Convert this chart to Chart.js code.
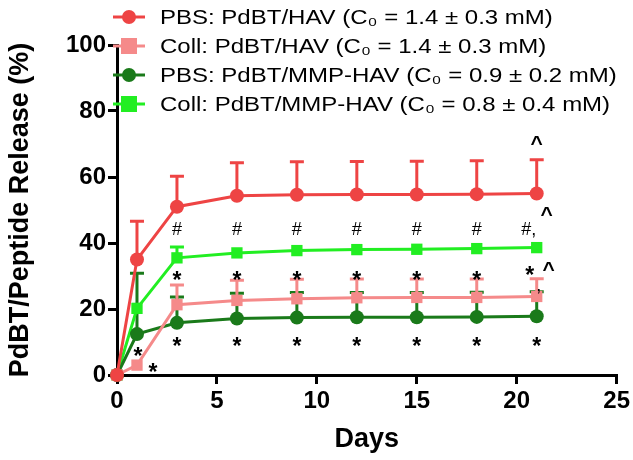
<!DOCTYPE html>
<html>
<head>
<meta charset="utf-8">
<script src="https://cdn.jsdelivr.net/npm/chart.js@4.4.1/dist/chart.umd.min.js"></script>
<style>
  html, body { margin: 0; padding: 0; background: #fff; }
  #wrap { width: 633px; height: 460px; }
</style>
</head>
<body>
<div id="wrap"><canvas id="releaseChart"></canvas></div>
<script>
const days = [0, 1, 3, 6, 9, 12, 15, 18, 21];

const seriesLabels = [
  "PBS: PdBT/HAV (C\u2080 = 1.4 \u00b1 0.3 mM)",
  "Coll: PdBT/HAV (C\u2080 = 1.4 \u00b1 0.3 mM)",
  "PBS: PdBT/MMP-HAV (C\u2080 = 0.9 \u00b1 0.2 mM)",
  "Coll: PdBT/MMP-HAV (C\u2080 = 0.8 \u00b1 0.4 mM)"
];

const pbsHav = [0, 35, 51, 54.3, 54.6, 54.7, 54.7, 54.8, 55];
const collHav = [0, 3, 21.3, 22.6, 23.1, 23.4, 23.5, 23.5, 23.8];
const pbsMmp = [0, 12.4, 15.8, 17.1, 17.4, 17.5, 17.5, 17.6, 17.8];
const collMmp = [0, 20.2, 35.5, 37, 37.7, 38, 38.1, 38.3, 38.6];

// upper end of the error bars
const pbsHavErr = [0, 46.6, 60.2, 64.3, 64.6, 64.7, 64.8, 64.9, 65.2];
const collHavErr = [0, 3, 27.3, 28.7, 29, 29.1, 29.1, 29.1, 29.2];
const pbsMmpErr = [0, 30.8, 23.6, 24.8, 25, 25, 25, 25.1, 25.2];
const collMmpErr = [0, 20.2, 38.8, 37, 37.7, 38, 38.1, 38.3, 38.6];

// significance marks
const markX = [3, 6, 9, 12, 15, 18, 20.6, 21.5, 21, 3, 6, 9, 12, 15, 18, 20.65, 21.1, 21.6, 3, 6, 9, 12, 15, 18, 21, 1.05, 1.8];
const markY = [44, 44, 44, 44, 44, 44, 44, 48.5, 70, 29.5, 29.5, 29.5, 29.5, 29.5, 29.5, 31, 27, 31.8, 9.5, 9.5, 9.5, 9.5, 9.5, 9.5, 9.5, 6.5, 1.5];
const markText = ["#", "#", "#", "#", "#", "#", "#,", "^", "^", "*", "*", "*", "*", "*", "*", "*", ",", "^", "*", "*", "*", "*", "*", "*", "*", "*", "*"];

const colors = ["#ee4444", "#f58a8a", "#1a7a1a", "#22ee22"];
const shapes = ["circle", "rect", "circle", "rect"];
const FONT = "'Liberation Sans', Arial, sans-serif";

function toPoints(vals) {
  return vals.map((v, i) => ({ x: days[i], y: v }));
}

const errSets = [pbsHavErr, collHavErr, pbsMmpErr, collMmpErr];

const errorBars = {
  id: "errorBars",
  beforeDatasetsDraw(chart) {
    const ctx = chart.ctx;
    const xs = chart.scales.x, ys = chart.scales.y;
    ctx.save();
    for (let d = errSets.length - 1; d >= 0; d--) {
      const vals = chart.data.datasets[d].data;
      ctx.strokeStyle = colors[d];
      ctx.lineWidth = 3;
      errSets[d].forEach((top, i) => {
        if (top <= vals[i].y) return;
        const px = xs.getPixelForValue(days[i]);
        const y0 = ys.getPixelForValue(vals[i].y);
        const y1 = ys.getPixelForValue(top);
        ctx.beginPath();
        ctx.moveTo(px, y0);
        ctx.lineTo(px, y1);
        ctx.moveTo(px - 7, y1);
        ctx.lineTo(px + 7, y1);
        ctx.stroke();
      });
    }
    ctx.restore();
  }
};

const marks = {
  id: "marks",
  afterDatasetsDraw(chart) {
    const ctx = chart.ctx;
    const xs = chart.scales.x, ys = chart.scales.y;
    ctx.save();
    ctx.fillStyle = "#000";
    ctx.textAlign = "center";
    ctx.textBaseline = "middle";
    markText.forEach((t, i) => {
      if (t === "*") ctx.font = "bold 23px " + FONT;
      else if (t === "^") ctx.font = "bold 21px " + FONT;
      else ctx.font = "18px " + FONT;
      const px = xs.getPixelForValue(markX[i]);
      const py = ys.getPixelForValue(markY[i]);
      ctx.fillText(t, px, t === "*" ? py + 4 : py);
    });
    ctx.restore();
  }
};

const topLegend = {
  id: "topLegend",
  afterDraw(chart) {
    const ctx = chart.ctx;
    ctx.save();
    ctx.font = "20px " + FONT;
    ctx.textBaseline = "middle";
    ctx.textAlign = "left";
    seriesLabels.forEach((label, i) => {
      const y = 17 + i * 29;
      ctx.strokeStyle = colors[i];
      ctx.fillStyle = colors[i];
      ctx.lineWidth = 3;
      ctx.beginPath();
      ctx.moveTo(113, y);
      ctx.lineTo(145, y);
      ctx.stroke();
      if (shapes[i] === "circle") {
        ctx.beginPath();
        ctx.arc(129, y, 7, 0, Math.PI * 2);
        ctx.fill();
      } else {
        ctx.fillRect(121, y - 8, 16, 16);
      }
      ctx.fillStyle = "#000";
      // the original text is a bit wider than the font
      ctx.save();
      ctx.translate(160, y + 1);
      ctx.scale(1.2, 1);
      ctx.fillText(label, 0, 0);
      ctx.restore();
    });
    ctx.restore();
  }
};

const datasets = [pbsHav, collHav, pbsMmp, collMmp].map((vals, i) => ({
  label: seriesLabels[i],
  data: toPoints(vals),
  borderColor: colors[i],
  backgroundColor: colors[i],
  borderWidth: 3,
  pointStyle: shapes[i],
  pointRadius: shapes[i] === "circle" ? 7 : 8,
  pointBorderWidth: 0,
  pointHoverRadius: 7,
  tension: 0,
  clip: false
}));

new Chart(document.getElementById("releaseChart"), {
  type: "line",
  data: { datasets },
  options: {
    responsive: true,
    maintainAspectRatio: false,
    animation: false,
    events: [],
    layout: { padding: { left: 0, top: 45, right: 16, bottom: 0 } },
    plugins: { legend: { display: false }, tooltip: { enabled: false } },
    scales: {
      x: {
        type: "linear",
        min: 0,
        max: 25,
        ticks: { stepSize: 5, color: "#000", font: { family: FONT, size: 24, weight: "bold" }, padding: 3 },
        grid: { drawOnChartArea: false, color: "#000", lineWidth: 3, tickLength: 9 },
        border: { color: "#000", width: 3 },
        title: { display: true, text: "Days", color: "#000", font: { family: FONT, size: 27, weight: "bold" }, padding: { top: 0 } },
        afterFit(scale) { scale.height = 85; }
      },
      y: {
        min: 0,
        max: 100,
        ticks: { stepSize: 20, color: "#000", font: { family: FONT, size: 24, weight: "bold" }, padding: 2 },
        grid: { drawOnChartArea: false, color: "#000", lineWidth: 3, tickLength: 9 },
        border: { color: "#000", width: 3 },
        title: { display: true, text: "PdBT/Peptide Release (%)", color: "#000", font: { family: FONT, size: 27, weight: "bold" }, padding: { bottom: 4 } },
        afterFit(scale) { scale.width = 117; }
      }
    }
  },
  plugins: [errorBars, marks, topLegend]
});
</script>
</body>
</html>
